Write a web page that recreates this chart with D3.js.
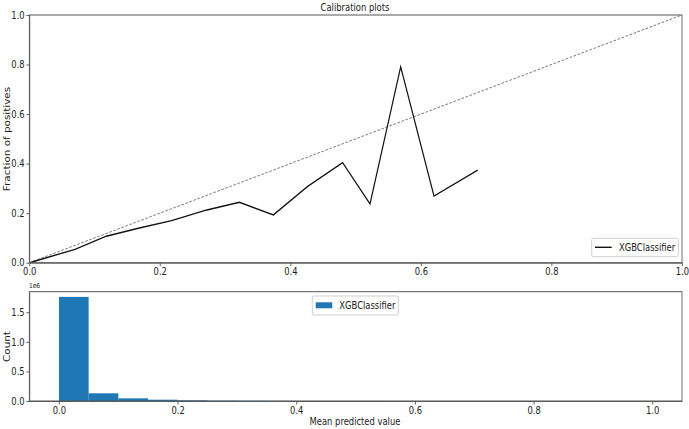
<!DOCTYPE html>
<html>
<head>
<meta charset="utf-8">
<script src="https://cdn.jsdelivr.net/npm/d3@7"></script>
<style>
  body { margin: 0; background: #fff; }
  text { font-family: "DejaVu Sans", sans-serif; fill: #222; }
</style>
</head>
<body>
<svg id="chart" width="689" height="429"></svg>
<script>
// calibration curve (mean predicted value, fraction of positives)
var meanPred = [0.003, 0.070, 0.118, 0.167, 0.218, 0.272, 0.322, 0.374, 0.426, 0.480, 0.522, 0.569, 0.620, 0.687];
var fracPos  = [0.002, 0.054, 0.107, 0.139, 0.170, 0.213, 0.244, 0.193, 0.307, 0.404, 0.237, 0.791, 0.269, 0.374];

// histogram of predicted values, 20 bins over [0, 1]
var binEdges = d3.range(0, 1.0001, 0.05);
var binCounts = [1759000, 130000, 45000, 22000, 12000, 6000, 3500, 2000, 1200, 800,
                 500, 300, 200, 120, 80, 50, 30, 20, 10, 5];

var tickVals = [0, 0.2, 0.4, 0.6, 0.8, 1.0];
var countTicks = [0, 500000, 1000000, 1500000];
var seriesName = "XGBClassifier";

// the original picture is squeezed horizontally, so draw wide and scale x
var sx = 0.84;
var svg = d3.select("#chart");
var g = svg.append("g").attr("transform", "scale(" + sx + ",1)");
function X(px) { return px / sx; }   // real pixel -> inner coordinate

var fmt = d3.format(".1f");

// ---------- top panel ----------
var upper = {l: X(29.3), r: X(682), t: 15, b: 262.7};
var x1 = d3.scaleLinear().domain([0, 1]).range([upper.l, upper.r]);
var y1 = d3.scaleLinear().domain([0, 1]).range([upper.b, upper.t]);

g.append("g").attr("transform", "translate(0," + upper.b + ")")
  .call(d3.axisBottom(x1).tickValues(tickVals).tickFormat(fmt).tickSize(3.5).tickSizeOuter(0).tickPadding(2));
g.append("g").attr("transform", "translate(" + upper.l + ",0)")
  .call(d3.axisLeft(y1).tickValues(tickVals).tickFormat(fmt).tickSize(3.5).tickSizeOuter(0).tickPadding(2));

// perfectly calibrated
g.append("line")
  .attr("x1", x1(0)).attr("y1", y1(0)).attr("x2", x1(1)).attr("y2", y1(1))
  .attr("stroke", "#666").attr("stroke-width", 1).attr("stroke-dasharray", "3,2");

var pts = meanPred.map(function(v, i){ return [v, fracPos[i]]; });
g.append("path")
  .datum(pts)
  .attr("d", d3.line().x(function(d){ return x1(d[0]); }).y(function(d){ return y1(d[1]); }))
  .attr("fill", "none").attr("stroke", "#111").attr("stroke-width", 1.4);

g.append("rect").attr("x", upper.l).attr("y", upper.t)
  .attr("width", upper.r - upper.l).attr("height", upper.b - upper.t)
  .attr("fill", "none").attr("stroke", "#555").attr("stroke-width", 1);

g.append("text").attr("x", X(355)).attr("y", 11.5).attr("text-anchor", "middle")
  .attr("font-size", 10).text("Calibration plots");
g.append("text").attr("transform", "translate(" + X(9.5) + "," + 139 + ") rotate(-90)")
  .attr("text-anchor", "middle").attr("font-size", 10.4).text("Fraction of positives");

// legend (lower right)
g.append("rect").attr("x", X(591.7)).attr("y", 238.3).attr("width", X(678.3) - X(591.7)).attr("height", 18.4)
  .attr("fill", "#fff").attr("stroke", "#ccc").attr("rx", 2);
g.append("line").attr("x1", X(595)).attr("x2", X(611.7)).attr("y1", 247.3).attr("y2", 247.3)
  .attr("stroke", "#111").attr("stroke-width", 1.4);
g.append("text").attr("x", X(619)).attr("y", 251).attr("font-size", 10).text(seriesName);

// ---------- bottom panel ----------
var lower = {l: X(29.3), r: X(682), t: 291.7, b: 401};
var x2 = d3.scaleLinear().domain([-0.05, 1.05]).range([lower.l, lower.r]);
var maxCount = d3.max(binCounts);
var y2 = d3.scaleLinear().domain([0, maxCount * 1.05]).range([lower.b, lower.t]);

g.append("g").selectAll("rect")
  .data(binCounts)
  .enter().append("rect")
  .attr("x", function(d, i){ return x2(binEdges[i]); })
  .attr("width", function(d, i){ return x2(binEdges[i + 1]) - x2(binEdges[i]); })
  .attr("y", function(d){ return y2(d); })
  .attr("height", function(d){ return lower.b - y2(d); })
  .attr("fill", "#1f77b4");

g.append("g").attr("transform", "translate(0," + lower.b + ")")
  .call(d3.axisBottom(x2).tickValues(tickVals).tickFormat(fmt).tickSize(3.5).tickSizeOuter(0).tickPadding(2));
g.append("g").attr("transform", "translate(" + lower.l + ",0)")
  .call(d3.axisLeft(y2).tickValues(countTicks).tickFormat(function(d){ return fmt(d / 1e6); })
    .tickSize(3.5).tickSizeOuter(0).tickPadding(2));

g.append("rect").attr("x", lower.l).attr("y", lower.t)
  .attr("width", lower.r - lower.l).attr("height", lower.b - lower.t)
  .attr("fill", "none").attr("stroke", "#555").attr("stroke-width", 1);

g.append("text").attr("x", X(29)).attr("y", 288.5).attr("font-size", 7).text("1e6");
g.append("text").attr("x", X(355)).attr("y", 425.5).attr("text-anchor", "middle")
  .attr("font-size", 10).text("Mean predicted value");
g.append("text").attr("transform", "translate(" + X(9.5) + "," + 346.5 + ") rotate(-90)")
  .attr("text-anchor", "middle").attr("font-size", 10.4).text("Count");

// legend (upper center)
g.append("rect").attr("x", X(312.3)).attr("y", 296).attr("width", X(398.3) - X(312.3)).attr("height", 19)
  .attr("fill", "#fff").attr("stroke", "#ccc").attr("rx", 2);
g.append("rect").attr("x", X(315.7)).attr("y", 302.3).attr("width", X(332.3) - X(315.7)).attr("height", 6)
  .attr("fill", "#1f77b4");
g.append("text").attr("x", X(339.3)).attr("y", 309.5).attr("font-size", 10).text(seriesName);

// axis styling
g.selectAll(".domain").attr("stroke", "#555");
g.selectAll(".tick line").attr("stroke", "#555");
g.selectAll(".tick text").attr("font-size", 10).attr("fill", "#222");
</script>
</body>
</html>
